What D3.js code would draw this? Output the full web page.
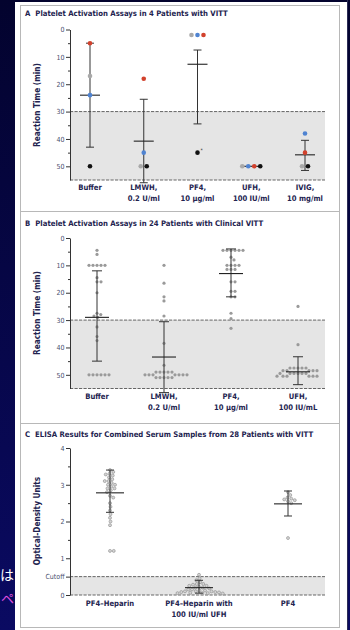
<!DOCTYPE html>
<html><head><meta charset="utf-8">
<script src="https://cdn.jsdelivr.net/npm/d3@7"></script>
<style>html,body{margin:0;padding:0;background:#06064c;overflow:hidden}</style>
</head><body>
<svg id="c" width="350" height="630"></svg>
<script>
// ---------- DATA ----------
// Panel A: 4 patients, reaction time (min)
const catsA = ["Buffer", "LMWH", "PF4", "UFH", "IVIG"];
const labelsA = [["Buffer"], ["LMWH,", "0.2 U/ml"], ["PF4,", "10 μg/ml"], ["UFH,", "100 IU/ml"], ["IVIG,", "10 mg/ml"]];
const patientGrayA  = [17, 50, 2, 50, 50];
const patientBlueA  = [24, 45, 2, 50, 38];
const patientRedA   = [5, 18, 2, 50, 45];
const patientBlackA = [50, 50, 45, 50, 50];
const meanA = [24, 40.8, 12.7, 50, 45.8];
const lowA  = [5, 25.5, 7.5, 50, 40.5];
const highA = [43, 56, 34.5, 50, 51.5];

// Panel B: 24 patients
const catsB = ["Buffer", "LMWH", "PF4", "UFH"];
const labelsB = [["Buffer"], ["LMWH,", "0.2 U/ml"], ["PF4,", "10 μg/ml"], ["UFH,", "100 IU/mL"]];
const bufferB = [4.5, 6, 10, 10, 10, 10, 10, 14.5, 16, 16, 20, 27.5, 28, 28.5, 29, 32.5, 36, 37.5, 50, 50, 50, 50, 50, 50];
const lmwhB = [10, 16.5, 21.5, 23, 28.5, 38.5, 46.5, 49, 49, 49, 49, 49, 50, 50, 50, 50, 50, 50, 50, 51, 51, 51, 51, 51];
const pf4B = [4.5, 4.5, 4.5, 4.5, 4.5, 4.5, 7, 8, 10, 10, 10, 10, 11.5, 11.5, 11.5, 16, 16, 19.5, 19.5, 21.5, 21.5, 27.5, 29.5, 33];
const ufhB = [25, 39, 47.5, 47.5, 47.5, 47.5, 47.5, 48.5, 48.5, 48.5, 48.5, 48.5, 49.5, 49.5, 49.5, 49.5, 49.5, 49.5, 50.5, 50.5, 50.5, 50.5, 50.5, 50.5];
const meanB = [29, 43.5, 13, 48.9];
const lowB  = [12, 30.6, 4, 43.4];
const highB = [45, 56.5, 21.5, 53.6];

// Panel C: ELISA optical density
const catsC = ["PF4-Heparin", "PF4-Heparin UFH", "PF4"];
const labelsC = [["PF4–Heparin"], ["PF4–Heparin with", "100 IU/ml UFH"], ["PF4"]];
const heparinC = [3.4, 3.35, 3.3, 3.28, 3.25, 3.2, 3.15, 3.1, 3.1, 3.05, 3.0, 3.0, 2.95, 2.9, 2.9, 2.85, 2.8, 2.7, 2.65, 2.5, 2.4, 2.3, 2.2, 2.1, 2.0, 1.9, 1.2, 1.2];
const heparinUfhC = [0.55, 0.45, 0.4, 0.35, 0.3, 0.3, 0.28, 0.25, 0.25, 0.22, 0.2, 0.2, 0.18, 0.15, 0.15, 0.12, 0.12, 0.1, 0.1, 0.1, 0.08, 0.08, 0.07, 0.06, 0.05, 0.05, 0.05, 0.04];
const pf4C = [2.8, 2.72, 2.65, 2.62, 2.6, 2.58, 2.55, 2.5, 1.55];
const meanC = [2.78, 0.2, 2.48];
const lowC  = [2.25, 0.05, 2.15];
const highC = [3.4, 0.4, 2.83];

const ticksTime = [0, 10, 20, 30, 40, 50];
const minorTime = [5, 15, 25, 35, 45];
const ticksOD = [0, 0.5, 1, 2, 3, 4];
const minorOD = [1.5, 2.5, 3.5];
const threshTime = 30, cutoffOD = 0.5;

// ---------- DRAW ----------
const FONT = "'Liberation Sans Narrow','DejaVu Sans Condensed','Arial Narrow',sans-serif";
const NAVY = "#23234f";
const svg = d3.select("#c");

const defs = svg.append("defs");
const lg = defs.append("linearGradient").attr("id", "bg").attr("x1", 0).attr("y1", 0).attr("x2", 0).attr("y2", 1);
lg.append("stop").attr("offset", 0).attr("stop-color", "#03032e");
lg.append("stop").attr("offset", 1).attr("stop-color", "#0a0a62");
svg.append("rect").attr("width", 350).attr("height", 630).attr("fill", "url(#bg)");

// Japanese slide fragments on the left edge
svg.append("text").attr("x", 0).attr("y", 580).attr("font-family", "'Noto Sans CJK JP'").attr("font-size", 14).attr("fill", "#ffffff").text("は");
svg.append("text").attr("x", 1).attr("y", 603).attr("font-family", "'Noto Sans CJK JP'").attr("font-size", 13).attr("fill", "#e050e0").text("ペ");

// page
svg.append("rect").attr("x", 15).attr("y", 2).attr("width", 333).attr("height", 630).attr("fill", "#fff");
svg.append("rect").attr("x", 20.5).attr("y", 5.5).attr("width", 319).attr("height", 622).attr("fill", "none").attr("stroke", "#b8b8b8").attr("stroke-width", 1);
[211.5, 423.5].forEach(yy => svg.append("line").attr("x1", 20).attr("x2", 340).attr("y1", yy).attr("y2", yy).attr("stroke", "#b8b8b8"));
svg.append("line").attr("x1", 347.5).attr("x2", 347.5).attr("y1", 0).attr("y2", 630).attr("stroke", "#2b2b55");

const AX = 70, RIGHT = 325;

function title(letter, txt, y) {
  const t = svg.append("text").attr("x", 25).attr("y", y).attr("font-family", FONT).attr("font-size", 7.7).attr("font-weight", "bold").attr("fill", NAVY);
  t.append("tspan").text(letter);
  t.append("tspan").attr("dx", 5).text(txt);
}

function yAxis(y, major, minor, fmt, yLabel, labelY) {
  const g = svg.append("g").attr("transform", `translate(${AX},0)`);
  g.call(d3.axisLeft(y).tickValues(major).tickSize(4).tickSizeOuter(0).tickPadding(1.5).tickFormat(fmt));
  g.select(".domain").attr("stroke", "#333");
  g.selectAll(".tick line").attr("stroke", "#333");
  g.selectAll(".tick text").attr("font-family", FONT).attr("font-size", 7).attr("fill", "#4a4f6e");
  const gm = svg.append("g").attr("transform", `translate(${AX},0)`);
  gm.call(d3.axisLeft(y).tickValues(minor).tickSize(2).tickFormat(""));
  gm.select(".domain").remove();
  gm.selectAll(".tick line").attr("stroke", "#333");
  svg.append("text").attr("transform", `translate(40,${labelY}) rotate(-90)`).attr("text-anchor", "middle")
    .attr("font-family", FONT).attr("font-size", 8.2).attr("font-weight", "bold").attr("fill", NAVY).text(yLabel);
}

function shade(y, from, to) {
  svg.append("rect").attr("x", AX).attr("y", y(from)).attr("width", RIGHT - AX).attr("height", y(to) - y(from)).attr("fill", "#e5e5e5");
  [from, to].forEach(v => svg.append("line").attr("x1", AX).attr("x2", RIGHT).attr("y1", y(v)).attr("y2", y(v))
    .attr("stroke", "#555").attr("stroke-width", 0.9).attr("stroke-dasharray", "3.2,1.3"));
}

function catLabels(x, cats, labels, y0) {
  cats.forEach((c, i) => {
    const t = svg.append("text").attr("x", x(c)).attr("y", y0).attr("text-anchor", "middle")
      .attr("font-family", FONT).attr("font-size", 7.6).attr("font-weight", "bold").attr("fill", NAVY);
    labels[i].forEach((l, j) => t.append("tspan").attr("x", x(c)).attr("dy", j === 0 ? 0 : 10.5).text(l));
  });
}

function bars(x, y, cats, mean, lo, hi, halfMean, halfCap) {
  cats.forEach((c, i) => {
    const cx = x(c);
    if (lo[i] !== hi[i]) {
      svg.append("line").attr("x1", cx).attr("x2", cx).attr("y1", y(lo[i])).attr("y2", y(hi[i])).attr("stroke", "#333").attr("stroke-width", 1);
      [lo[i], hi[i]].forEach(v => svg.append("line").attr("x1", cx - halfCap).attr("x2", cx + halfCap).attr("y1", y(v)).attr("y2", y(v)).attr("stroke", "#333").attr("stroke-width", 1));
    }
    svg.append("line").attr("x1", cx - halfMean).attr("x2", cx + halfMean).attr("y1", y(mean[i])).attr("y2", y(mean[i])).attr("stroke", "#222").attr("stroke-width", 1.1);
  });
}

function swarm(vals, y, cx, d) {
  const pts = vals.map(v => ({ v, py: y(v) })).sort((a, b) => a.py - b.py);
  const placed = [];
  pts.forEach(p => {
    for (let k = 0; k < 400; k++) {
      const off = k === 0 ? 0 : (k % 2 === 1 ? 1 : -1) * Math.ceil(k / 2) * 0.25;
      const px = cx + off;
      if (placed.every(q => (q.px - px) ** 2 + (q.py - p.py) ** 2 >= d * d - 0.01)) { p.px = px; break; }
    }
    placed.push(p);
  });
  return placed;
}

// ===== Panel A =====
title("A", "Platelet Activation Assays in 4 Patients with VITT", 16);
const yA = d3.scaleLinear().domain([0, 55]).range([29.5, 180]);
const xA = d3.scalePoint().domain(catsA).range([90, 305]);
shade(yA, threshTime, 55);
yAxis(yA, ticksTime, minorTime, d => d, "Reaction Time (min)", 105);
catLabels(xA, catsA, labelsA, 190);
bars(xA, yA, catsA, meanA, lowA, highA, 10, 4);
const seriesA = [
  { vals: patientGrayA, color: "#a9a9a9" },
  { vals: patientBlueA, color: "#4f83d1" },
  { vals: patientRedA, color: "#d2412c" },
  { vals: patientBlackA, color: "#111111" }
];
catsA.forEach((c, i) => {
  const pts = seriesA.map(s => ({ v: s.vals[i], color: s.color }));
  const groups = d3.group(pts, p => p.v);
  groups.forEach(arr => {
    arr.forEach((p, j) => {
      const px = xA(c) + (j - (arr.length - 1) / 2) * 6;
      svg.append("circle").attr("cx", px).attr("cy", yA(p.v)).attr("r", 2.3).attr("fill", p.color);
      if (c === "PF4" && p.v === 45) svg.append("text").attr("x", px + 3).attr("y", yA(p.v) - 0.5).attr("font-size", 5).attr("font-family", FONT).attr("fill", "#333").text("*");
    });
  });
});

// ===== Panel B =====
title("B", "Platelet Activation Assays in 24 Patients with Clinical VITT", 225.5);
const yB = d3.scaleLinear().domain([0, 55]).range([238, 388.5]);
const xB = d3.scalePoint().domain(catsB).range([97, 298]);
shade(yB, threshTime, 55);
yAxis(yB, ticksTime, minorTime, d => d, "Reaction Time (min)", 313);
catLabels(xB, catsB, labelsB, 399);
[bufferB, lmwhB, pf4B, ufhB].forEach((vals, i) => {
  swarm(vals, yB, xB(catsB[i]), 3.9).forEach(p =>
    svg.append("circle").attr("cx", p.px).attr("cy", p.py).attr("r", 1.6).attr("fill", "#9a9a9a"));
});
bars(xB, yB, catsB, meanB, lowB, highB, 12, 5);

// ===== Panel C =====
title("C", "ELISA Results for Combined Serum Samples from 28 Patients with VITT", 436.5);
const yC = d3.scaleLinear().domain([0, 4]).range([595, 448]);
const xC = d3.scalePoint().domain(catsC).range([110, 288]);
shade(yC, cutoffOD, 0);
yAxis(yC, ticksOD, minorOD, d => d === 0.5 ? "Cutoff" : d, "Optical-Density Units", 521);
catLabels(xC, catsC, labelsC, 606);
[heparinC, heparinUfhC, pf4C].forEach((vals, i) => {
  swarm(vals, yC, xC(catsC[i]), 3.7).forEach(p =>
    svg.append("circle").attr("cx", p.px).attr("cy", p.py).attr("r", 1.5).attr("fill", "#d4d4d4").attr("stroke", "#7a7a7a").attr("stroke-width", 0.5));
});
bars(xC, yC, catsC, meanC, lowC, highC, 14, 4);
</script></body></html>
